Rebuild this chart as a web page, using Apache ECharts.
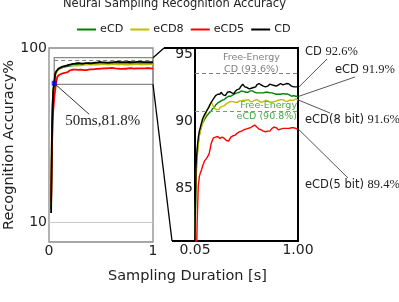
<!DOCTYPE html>
<html><head><meta charset="utf-8">
<script src="https://cdn.jsdelivr.net/npm/echarts@6/dist/echarts.min.js"></script>
<style>html,body{margin:0;padding:0;background:#fff}#c{width:399px;height:302px}</style>
</head><body><div id="c"></div><script>
// ---- data ----
const tSec = [0.02,0.03,0.04,0.05,0.06,0.07,0.08,0.09,
0.10,0.11,0.12,0.13,0.14,0.15,0.16,0.17,0.18,0.19,
0.20,0.21,0.22,0.23,0.24,0.25,0.26,0.27,0.28,0.29,
0.30,0.31,0.32,0.33,0.34,0.35,0.36,0.37,0.38,0.39,
0.40,0.41,0.42,0.43,0.44,0.45,0.46,0.47,0.48,0.49,
0.50,0.51,0.52,0.53,0.54,0.55,0.56,0.57,0.58,0.59,
0.60,0.61,0.62,0.63,0.64,0.65,0.66,0.67,0.68,0.69,
0.70,0.71,0.72,0.73,0.74,0.75,0.76,0.77,0.78,0.79,
0.80,0.81,0.82,0.83,0.84,0.85,0.86,0.87,0.88,0.89,
0.90,0.91,0.92,0.93,0.94,0.95,0.96,0.97,0.98,0.99,1.00];
const cdAcc = [15,62,77.5,81.8,86.8,88.0,88.8,89.3,
89.6,89.9,90.2,90.4,90.5,90.7,90.85,90.95,91.1,91.3,
91.45,91.5,91.7,91.8,91.95,91.9,92.05,92.15,92.05,92.2,
92.15,92.0,92.05,91.95,92.05,92.2,92.3,92.25,92.3,92.15,
92.2,92.1,92.25,92.35,92.4,92.5,92.45,92.6,92.7,92.8,
92.7,92.6,92.7,92.55,92.6,92.45,92.55,92.5,92.6,92.55,
92.65,92.6,92.75,92.7,92.85,92.8,92.75,92.8,92.65,92.7,
92.6,92.7,92.65,92.75,92.8,92.7,92.75,92.8,92.7,92.75,
92.65,92.7,92.75,92.7,92.85,92.8,92.75,92.85,92.8,92.8,
92.85,92.75,92.8,92.7,92.65,92.7,92.6,92.65,92.6,92.65,92.6];
const ecdAcc = [17,63,78,81.6,86.2,87.6,88.4,89.0,
89.4,89.7,89.9,90.05,90.2,90.3,90.45,90.5,90.65,90.75,
90.8,90.95,90.9,91.1,91.25,91.3,91.4,91.35,91.5,91.55,
91.6,91.7,91.65,91.75,91.8,91.85,91.9,91.95,91.9,92.0,
92.0,92.05,92.1,92.05,92.15,92.15,92.2,92.25,92.3,92.3,
92.25,92.2,92.2,92.25,92.2,92.25,92.3,92.35,92.3,92.25,
92.2,92.15,92.15,92.1,92.15,92.2,92.15,92.1,92.15,92.2,
92.2,92.25,92.2,92.2,92.15,92.2,92.15,92.15,92.1,92.1,
92.05,92.1,92.05,92.1,92.05,92.07,92.1,92.05,92.07,92.05,
92.07,92.05,92.0,91.95,91.9,91.9,91.95,91.9,91.9,91.9,91.9];
const ecd8Acc = [19,64,78,81.5,85.8,87.3,88.3,88.9,
89.3,89.6,89.9,90.15,90.4,90.6,90.85,91.0,91.2,91.3,
91.45,91.3,91.15,91.0,90.95,90.9,90.95,90.9,91.05,91.1,
91.15,91.1,91.2,91.3,91.35,91.4,91.45,91.4,91.5,91.5,
91.5,91.4,91.45,91.5,91.45,91.5,91.55,91.5,91.57,91.6,
91.6,91.65,91.6,91.7,91.65,91.6,91.5,91.45,91.5,91.55,
91.6,91.7,91.65,91.65,91.55,91.55,91.45,91.5,91.5,91.55,
91.6,91.55,91.55,91.5,91.45,91.5,91.45,91.45,91.5,91.5,
91.55,91.6,91.6,91.7,91.65,91.65,91.65,91.6,91.55,91.5,
91.5,91.55,91.6,91.55,91.6,91.55,91.6,91.65,91.7,91.65,91.6];
const ecd5Acc = [21,52,67,74,78.5,82.5,85.2,85.9,
86.2,86.4,86.7,86.9,87.1,87.2,87.3,87.4,87.6,88.0,
88.4,88.6,88.8,88.9,88.85,88.8,88.9,88.8,88.75,88.8,
88.85,88.8,88.75,88.7,88.6,88.5,88.55,88.7,88.85,88.9,
88.95,89.0,89.0,89.1,89.15,89.2,89.25,89.3,89.3,89.35,
89.4,89.4,89.45,89.5,89.5,89.5,89.55,89.6,89.65,89.7,
89.75,89.7,89.6,89.5,89.45,89.4,89.4,89.35,89.3,89.25,
89.25,89.25,89.3,89.25,89.3,89.4,89.5,89.55,89.6,89.6,
89.55,89.45,89.4,89.4,89.45,89.5,89.5,89.45,89.5,89.5,
89.5,89.55,89.5,89.55,89.55,89.5,89.55,89.55,89.5,89.45,89.4];
const seriesNames = ['eCD','eCD8','eCD5','CD'];
const endLabelNames = ['eCD ','eCD(8 bit) ','eCD(5 bit) ','CD '];
const endLabelValues = ['91.9%','91.6%','89.4%','92.6%'];
const freeEnergyCD = 93.6;
const freeEnergyECD = 90.8;
const markerT = [0.05];
const markerAcc = [81.8];
const markerText = '50ms,81.8%';
const leftXTicks = [0,1];
const leftYTicks = [10,100];
const rightXTicks = [0.05,1];
const rightYTicks = [85,90,95];
const zoomBox = {t0:0.05, t1:1, v0:81.3, v1:95};
const rightRange = {tMin:0.05, tMax:1, vMin:81.1, vMax:95.5};

// ---- style ----
const colors = ['#008000','#bfbf00','#ff0000','#000000'];
const F = 'DejaVu Sans';
const SERIF = 'Liberation Serif';
const TXT = '#222';

const chart = echarts.init(document.getElementById('c'), null, {renderer:'canvas'});
const pairs = arr => tSec.map((t,i)=>[t,arr[i]]);
const allData = [ecdAcc, ecd8Acc, ecd5Acc, cdAcc];

const series = [];
allData.forEach((arr,k)=>{
  series.push({name:seriesNames[k], type:'line', xAxisIndex:0, yAxisIndex:0,
    data:pairs(arr), showSymbol:false, symbol:'none', clip:true, z:3,
    lineStyle:{color:colors[k], width:1.8}, itemStyle:{color:colors[k]}});
});
allData.forEach((arr,k)=>{
  series.push({name:seriesNames[k], type:'line', xAxisIndex:1, yAxisIndex:1,
    data:pairs(arr), showSymbol:false, symbol:'none', clip:true, z:3,
    lineStyle:{color:colors[k], width:1.4}, itemStyle:{color:colors[k]}});
});
// reference lines / zoom box in left panel
series.push({type:'line', xAxisIndex:0, yAxisIndex:0, data:[], silent:true, z:2,
  markLine:{silent:true, symbol:'none', label:{show:false}, animation:false,
    data:[
      [{coord:[leftXTicks[0],leftYTicks[0]], lineStyle:{color:'#c8c8c8', width:1.2, type:'solid'}},{coord:[leftXTicks[1],leftYTicks[0]]}],
      [{coord:[zoomBox.t0,freeEnergyCD], lineStyle:{color:'#808080', width:1.2, type:[4,3]}},{coord:[zoomBox.t1,freeEnergyCD]}]
    ]},
  markArea:{silent:true, itemStyle:{color:'rgba(0,0,0,0)', borderColor:'#8a8a8a', borderWidth:1.3},
    data:[[{coord:[zoomBox.t0,zoomBox.v1]},{coord:[zoomBox.t1,zoomBox.v0]}]]}
});
// free-energy lines in right panel
series.push({type:'line', xAxisIndex:1, yAxisIndex:1, data:[], silent:true, z:2,
  markLine:{silent:true, symbol:'none', label:{show:false}, animation:false,
    data:[
      {yAxis:freeEnergyCD, lineStyle:{color:'#808080', width:1.2, type:[4,3]}},
      {yAxis:freeEnergyECD, lineStyle:{color:'#55b455', width:1.2, type:[4,3]}}
    ]}
});
series.push({type:'scatter', xAxisIndex:0, yAxisIndex:0, z:5,
  data: markerT.map((t,i)=>[t,markerAcc[i]]), symbol:'rect', symbolSize:5,
  itemStyle:{color:'#0000ff'}});

const axisLabelBase = {fontSize:14, color:TXT, fontFamily:F};
chart.setOption({
  animation:false,
  title:{text:'Neural Sampling Recognition Accuracy', left:63, top:-2, padding:0,
    textStyle:{fontSize:11.5, fontWeight:'normal', color:TXT, fontFamily:F}},
  legend:{data:seriesNames, left:77, top:24, padding:0, itemGap:7, itemWidth:19, itemHeight:2,
    icon:'rect', textStyle:{fontSize:11.2, color:TXT, fontFamily:F, padding:[0,0,0,-1]}},
  grid:[
    {left:49, top:48, width:104, height:194, show:true, borderColor:'#8a8a8a', borderWidth:1.3, backgroundColor:'rgba(0,0,0,0)'},
    {left:195, top:48, width:103, height:193, show:true, borderColor:'#000', borderWidth:2, backgroundColor:'rgba(0,0,0,0)'}
  ],
  xAxis:[
    {type:'value', gridIndex:0, min:leftXTicks[0], max:leftXTicks[1], axisLine:{show:false}, axisTick:{show:false}, splitLine:{show:false},
      axisLabel:Object.assign({customValues:leftXTicks, margin:2}, axisLabelBase)},
    {type:'value', gridIndex:1, min:rightRange.tMin, max:rightRange.tMax, axisLine:{show:false}, axisTick:{show:false}, splitLine:{show:false},
      axisLabel:Object.assign({customValues:rightXTicks, margin:2, formatter:v=>v.toFixed(2)}, axisLabelBase)}
  ],
  yAxis:[
    {type:'value', gridIndex:0, min:0, max:100, axisLine:{show:false}, axisTick:{show:false}, splitLine:{show:false},
      axisLabel:Object.assign({customValues:leftYTicks, margin:2}, axisLabelBase),
      name:'Recognition Accuracy%', nameLocation:'middle', nameGap:29,
      nameTextStyle:{fontSize:14.5, color:TXT, fontFamily:F}},
    {type:'value', gridIndex:1, min:rightRange.vMin, max:rightRange.vMax, axisLine:{show:false}, axisTick:{show:false}, splitLine:{show:false},
      axisLabel:Object.assign({customValues:rightYTicks, margin:2}, axisLabelBase)}
  ],
  series: series
});

// ---- annotations (positions derived from the axes) ----
const px = (g, v) => chart.convertToPixel({gridIndex:g}, v);
const g = [];
const line = (a,b,stroke,w) => g.push({type:'line', silent:true, z:10,
  shape:{x1:a[0],y1:a[1],x2:b[0],y2:b[1]}, style:{stroke:stroke, lineWidth:w}});
const text = (x,y,opts) => g.push({type:'text', silent:true, z:11, x:x, y:y,
  style:Object.assign({fill:TXT, align:'left', verticalAlign:'middle', textAlign:'left', textVerticalAlign:'middle'}, opts)});

// zoom connectors
const boxTR = px(0,[zoomBox.t1,zoomBox.v1]);
const boxBR = px(0,[zoomBox.t1,zoomBox.v0]);
const inTL = px(1,[rightRange.tMin,rightRange.vMax]);
const inBL = px(1,[rightRange.tMin,rightRange.vMin]);
const topStart = [inTL[0]-31, inTL[1]];
const botStart = [inBL[0]-23, inBL[1]];
line(topStart,[inTL[0],inTL[1]],'#000',2);
line(botStart,[inBL[0],inBL[1]],'#000',2);
line(boxTR, topStart, '#000', 1.3);
line(boxBR, botStart, '#000', 1.3);

// 50ms annotation
const mk = px(0,[markerT[0],markerAcc[0]]);
line(mk,[mk[0]+35, mk[1]+31],'#333',1);
text(mk[0]+11, mk[1]+38, {text:markerText, font:'15px "'+SERIF+'"'});

// free-energy texts
const feCD = px(1,[0.57, freeEnergyCD]);
text(feCD[0], feCD[1]-10, {text:'Free-Energy\nCD ('+freeEnergyCD+'%)', font:'9.5px "'+F+'"', fill:'#808080', align:'center', textAlign:'center', lineHeight:11.5});
const feE = px(1,[rightRange.tMax, freeEnergyECD]);
text(feE[0]-1, feE[1], {text:'Free-Energy\neCD ('+freeEnergyECD+'%)', font:'9.5px "'+F+'"', fill:'#4aa84a', align:'right', textAlign:'right', lineHeight:11.5});

// end labels
const last = tSec.length-1;
const rightEdge = inTL[0] + 103;
const labelPos = [ // [text x offset from right edge, text y px, leader end dx, leader end dy]
  [37, 70, 57, 77],
  [7, 120, 32, 113],
  [7, 185, 50, 178],
  [7, 52, 29, 59]
];
allData.forEach((arr,k)=>{
  const e = px(1,[tSec[last], arr[last]]);
  const lp = labelPos[k];
  line([e[0]+1,e[1]],[rightEdge+lp[2], lp[3]],'#444',0.9);
  text(rightEdge+lp[0], lp[1], {text:'{s|'+endLabelNames[k]+'}{n|'+endLabelValues[k]+'}',
    rich:{s:{fontSize:11.5, fontFamily:F, fill:TXT, color:TXT}, n:{fontSize:12.5, fontFamily:SERIF, fill:TXT, color:TXT}}});
});

// x-axis title
const xMid = (px(0,[0,0])[0] + rightEdge)/2 + 14;
text(xMid, 276, {text:'Sampling Duration [s]', font:'14.5px "'+F+'"', align:'center', textAlign:'center'});

chart.setOption({graphic:g});
</script></body></html>
